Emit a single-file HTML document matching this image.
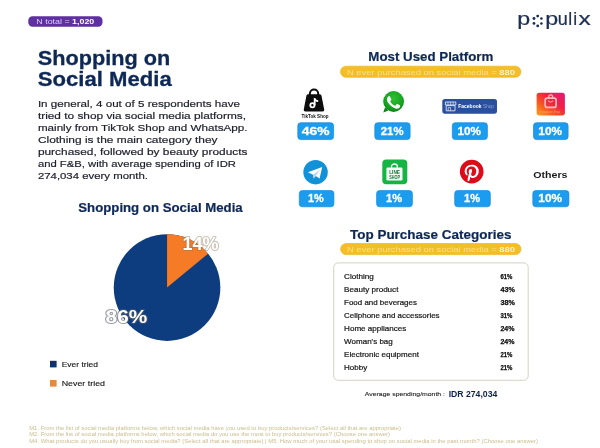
<!DOCTYPE html>
<html><head><meta charset="utf-8"><title>Shopping on Social Media</title>
<style>
html,body{margin:0;padding:0;background:#fff;}
body{width:600px;height:448px;overflow:hidden;}
svg{display:block;font-family:"Liberation Sans", sans-serif;}
text{white-space:pre;}
</style></head><body>
<svg width="600" height="448" viewBox="0 0 600 448">
<rect width="600" height="448" fill="#fff"/>
<rect x="28.3" y="16.3" width="74.2" height="10.5" rx="4.2" fill="#5f30a2"/>
<text x="36.3" y="24.2" font-size="7.6" font-weight="normal" fill="#dccff2" textLength="58.0" lengthAdjust="spacingAndGlyphs">N total = <tspan font-weight="bold" fill="#fff">1,020</tspan></text>
<text x="37.8" y="64.8" font-size="20.8" font-weight="bold" fill="#0e2856" textLength="132.4" lengthAdjust="spacingAndGlyphs" stroke="#0e2856" stroke-width="0.3">Shopping on</text>
<text x="37.8" y="86.3" font-size="20.8" font-weight="bold" fill="#0e2856" textLength="133.9" lengthAdjust="spacingAndGlyphs" stroke="#0e2856" stroke-width="0.3">Social Media</text>
<text x="37.9" y="106.60000000000001" font-size="9.7" font-weight="normal" fill="#1c1e2b" textLength="202.1" lengthAdjust="spacingAndGlyphs" stroke="#1c1e2b" stroke-width="0.18">In general, 4 out of 5 respondents have</text>
<text x="37.9" y="118.60000000000001" font-size="9.7" font-weight="normal" fill="#1c1e2b" textLength="208.1" lengthAdjust="spacingAndGlyphs" stroke="#1c1e2b" stroke-width="0.18">tried to shop via social media platforms,</text>
<text x="37.9" y="130.6" font-size="9.7" font-weight="normal" fill="#1c1e2b" textLength="209.6" lengthAdjust="spacingAndGlyphs" stroke="#1c1e2b" stroke-width="0.18">mainly from TikTok Shop and WhatsApp.</text>
<text x="37.9" y="142.70000000000002" font-size="9.7" font-weight="normal" fill="#1c1e2b" textLength="179.6" lengthAdjust="spacingAndGlyphs" stroke="#1c1e2b" stroke-width="0.18">Clothing is the main category they</text>
<text x="37.9" y="154.6" font-size="9.7" font-weight="normal" fill="#1c1e2b" textLength="209.6" lengthAdjust="spacingAndGlyphs" stroke="#1c1e2b" stroke-width="0.18">purchased, followed by beauty products</text>
<text x="37.9" y="166.70000000000002" font-size="9.7" font-weight="normal" fill="#1c1e2b" textLength="198.1" lengthAdjust="spacingAndGlyphs" stroke="#1c1e2b" stroke-width="0.18">and F&amp;B, with average spending of IDR</text>
<text x="37.9" y="178.6" font-size="9.7" font-weight="normal" fill="#1c1e2b" textLength="110.1" lengthAdjust="spacingAndGlyphs" stroke="#1c1e2b" stroke-width="0.18">274,034 every month.</text>
<text x="78.3" y="212" font-size="12.3" font-weight="bold" fill="#0e2856" textLength="164.4" lengthAdjust="spacingAndGlyphs" stroke="#0e2856" stroke-width="0.2">Shopping on Social Media</text>
<circle cx="167.05" cy="287.6" r="53.3" fill="#0e3d7f"/>
<path d="M167.05 287.6 L167.05 234.3 A53.3 53.3 0 0 1 208.12 253.63 Z" fill="#f67b27"/>
<text x="182.6" y="250.2" font-size="18.6" font-weight="bold" fill="#fff" textLength="36.0" lengthAdjust="spacingAndGlyphs" stroke="#8a7355" stroke-opacity="0.42" stroke-width="2.2" stroke-linejoin="round" paint-order="stroke">14%</text>
<text x="105.6" y="322.6" font-size="18.8" font-weight="bold" fill="#fff" textLength="41.6" lengthAdjust="spacingAndGlyphs" stroke="#5a5f6a" stroke-opacity="0.6" stroke-width="2.2" stroke-linejoin="round" paint-order="stroke">86%</text>
<rect x="50" y="360.8" width="6.6" height="6.6" fill="#10316a"/>
<rect x="50" y="380" width="6.6" height="6.6" fill="#e58a3e"/>
<text x="61.7" y="366.7" font-size="7.8" font-weight="normal" fill="#151515" textLength="36.3" lengthAdjust="spacingAndGlyphs" stroke="#151515" stroke-width="0.12">Ever tried</text>
<text x="61.7" y="385.8" font-size="7.8" font-weight="normal" fill="#151515" textLength="43.3" lengthAdjust="spacingAndGlyphs" stroke="#151515" stroke-width="0.12">Never tried</text>
<text x="29.2" y="430.3" font-size="4.6" font-weight="normal" fill="#cbbd8e" textLength="371.8" lengthAdjust="spacingAndGlyphs">M1. From the list of social media platforms below, which social media have you used to buy products/services? (Select all that are appropriate)</text>
<text x="29.2" y="436.4" font-size="4.6" font-weight="normal" fill="#cbbd8e" textLength="360.8" lengthAdjust="spacingAndGlyphs">M2. From the list of social media platforms below, which social media do you use the most to buy products/services? (Choose one answer)</text>
<text x="29.2" y="442.5" font-size="4.6" font-weight="normal" fill="#cbbd8e" textLength="508.8" lengthAdjust="spacingAndGlyphs">M4. What products do you usually buy from social media? (Select all that are appropriate) | M5. How much of your total spending to shop on social media in the past month? (Choose one answer)</text>
<text transform="translate(517.26 24.6) scale(1.33,1)" font-size="17.5" fill="#1b2f52" stroke="#1b2f52" stroke-width="0.2">p</text>
<text transform="translate(545.36 24.6) scale(1.33,1)" font-size="17.5" fill="#1b2f52" stroke="#1b2f52" stroke-width="0.2">p</text>
<text transform="translate(557.85 24.6) scale(1.03,1)" font-size="17.5" fill="#1b2f52" stroke="#1b2f52" stroke-width="0.2">u</text>
<text transform="translate(568.23 24.6) scale(1.0,1)" font-size="17.5" fill="#1b2f52" stroke="#1b2f52" stroke-width="0.2">l</text>
<text transform="translate(573.23 24.6) scale(1.0,1)" font-size="17.5" fill="#1b2f52" stroke="#1b2f52" stroke-width="0.2">i</text>
<text transform="translate(578.43 24.6) scale(1.4,1)" font-size="17.5" fill="#1b2f52" stroke="#1b2f52" stroke-width="0.2">x</text>
<circle cx="537.70" cy="16.10" r="1.45" fill="#1b2f52"/>
<circle cx="541.42" cy="18.55" r="1.3" fill="#1b2f52"/>
<circle cx="541.42" cy="23.45" r="1.3" fill="#1b2f52"/>
<circle cx="537.70" cy="25.90" r="1.4" fill="#1b2f52"/>
<circle cx="533.98" cy="23.45" r="1.4" fill="#1b2f52"/>
<circle cx="533.98" cy="18.55" r="1.45" fill="#1b2f52"/>
<text x="368.3" y="61.4" font-size="12.3" font-weight="bold" fill="#0e2856" textLength="125.0" lengthAdjust="spacingAndGlyphs" stroke="#0e2856" stroke-width="0.2">Most Used Platform</text>
<rect x="340.5" y="66.2" width="180.4" height="11.1" rx="5.55" fill="#f4be26" stroke="#f1b521" stroke-width="0.7"/>
<text x="347" y="74.6" font-size="7.9" font-weight="normal" fill="#fbe08a" textLength="168.0" lengthAdjust="spacingAndGlyphs">N ever purchased on social media = <tspan font-weight="bold" fill="#fff2c8">880</tspan></text>
<rect x="297.8" y="122.7" width="35.8" height="16.9" rx="3" fill="#1c9cef" stroke="#1189dc" stroke-width="0.7"/>
<text x="301.8" y="135.29999999999998" font-size="11" font-weight="bold" fill="#fff" textLength="27.7" lengthAdjust="spacingAndGlyphs" stroke="#fff" stroke-width="0.3">46%</text>
<rect x="374.8" y="122.7" width="35.3" height="16.9" rx="3" fill="#1c9cef" stroke="#1189dc" stroke-width="0.7"/>
<text x="380.8" y="135.29999999999998" font-size="11" font-weight="bold" fill="#fff" textLength="22.7" lengthAdjust="spacingAndGlyphs" stroke="#fff" stroke-width="0.3">21%</text>
<rect x="452.3" y="122.7" width="35.1" height="16.9" rx="3" fill="#1c9cef" stroke="#1189dc" stroke-width="0.7"/>
<text x="457.6" y="135.29999999999998" font-size="11" font-weight="bold" fill="#fff" textLength="23.4" lengthAdjust="spacingAndGlyphs" stroke="#fff" stroke-width="0.3">10%</text>
<rect x="533.5" y="122.7" width="34.6" height="16.9" rx="3" fill="#1c9cef" stroke="#1189dc" stroke-width="0.7"/>
<text x="538.3" y="135.29999999999998" font-size="11" font-weight="bold" fill="#fff" textLength="23.7" lengthAdjust="spacingAndGlyphs" stroke="#fff" stroke-width="0.3">10%</text>
<rect x="299.3" y="190.6" width="34.6" height="16.2" rx="3" fill="#1c9cef" stroke="#1189dc" stroke-width="0.7"/>
<text x="308" y="202.1" font-size="11" font-weight="bold" fill="#fff" textLength="15.7" lengthAdjust="spacingAndGlyphs" stroke="#fff" stroke-width="0.3">1%</text>
<rect x="376.6" y="190.6" width="35.8" height="16.2" rx="3" fill="#1c9cef" stroke="#1189dc" stroke-width="0.7"/>
<text x="386" y="202.1" font-size="11" font-weight="bold" fill="#fff" textLength="16.0" lengthAdjust="spacingAndGlyphs" stroke="#fff" stroke-width="0.3">1%</text>
<rect x="454.7" y="190.6" width="35.6" height="16.2" rx="3" fill="#1c9cef" stroke="#1189dc" stroke-width="0.7"/>
<text x="464" y="202.1" font-size="11" font-weight="bold" fill="#fff" textLength="16.0" lengthAdjust="spacingAndGlyphs" stroke="#fff" stroke-width="0.3">1%</text>
<rect x="532.8" y="190.6" width="36.1" height="16.2" rx="3" fill="#1c9cef" stroke="#1189dc" stroke-width="0.7"/>
<text x="538.3" y="202.1" font-size="11" font-weight="bold" fill="#fff" textLength="23.7" lengthAdjust="spacingAndGlyphs" stroke="#fff" stroke-width="0.3">10%</text>
<text x="533.2" y="178.4" font-size="9.5" font-weight="bold" fill="#1c1c1c" textLength="34.3" lengthAdjust="spacingAndGlyphs">Others</text>
<defs>
<linearGradient id="ig" x1="0" y1="1" x2="1" y2="0"><stop offset="0" stop-color="#fba31c"/><stop offset="0.33" stop-color="#f6581f"/><stop offset="0.62" stop-color="#ee2244"/><stop offset="1" stop-color="#e01a7c"/></linearGradient>
<radialGradient id="wa" cx="0.5" cy="0.35" r="0.7"><stop offset="0" stop-color="#2fc033"/><stop offset="0.6" stop-color="#17a522"/><stop offset="1" stop-color="#0a7d16"/></radialGradient>
</defs>
<!-- TikTok Shop -->
<g>
<g transform="translate(-0.2 -0.2)">
<path d="M310.1 96 V93.8 A4.15 4.1 0 0 1 318.4 93.8 V96" fill="none" stroke="#0c0c0c" stroke-width="2"/>
<path d="M308 94.5 H320 Q321.4 94.5 321.7 96 L324.4 109.6 Q324.8 111.7 322.8 111.7 H305.6 Q303.6 111.7 304 109.6 L306.6 96 Q306.9 94.5 308 94.5 Z" fill="#0c0c0c"/>
<circle cx="312.6" cy="105.4" r="2.1" fill="none" stroke="#fff" stroke-width="1.8"/>
<path d="M314.9 105.4 V98.2 Q315.3 101.2 318.4 101.4" fill="none" stroke="#fff" stroke-width="1.8"/>
</g>
<text x="301.6" y="117.9" font-size="5" font-weight="bold" fill="#111" textLength="26.9" lengthAdjust="spacingAndGlyphs">TikTok Shop</text>
</g>
<!-- WhatsApp -->
<g>
<path d="M383.3 112.6 L385 107.6 L388.4 110.6 Z" fill="#0a7d16"/>
<circle cx="393.6" cy="101.5" r="10.4" fill="url(#wa)"/>
<path transform="translate(380.3 89.3) scale(1.1)" fill="#fff" d="M17.472 14.382c-.297-.149-1.758-.867-2.03-.967-.273-.099-.471-.148-.67.15-.197.297-.767.966-.94 1.164-.173.199-.347.223-.644.075-.297-.15-1.255-.463-2.39-1.475-.883-.788-1.48-1.761-1.653-2.059-.173-.297-.018-.458.13-.606.134-.133.298-.347.446-.52.149-.174.198-.298.298-.497.099-.198.05-.371-.025-.52-.075-.149-.669-1.612-.916-2.207-.242-.579-.487-.5-.669-.51-.173-.008-.371-.01-.57-.01-.198 0-.52.074-.792.372-.272.297-1.04 1.016-1.04 2.479 0 1.462 1.065 2.875 1.213 3.074.149.198 2.096 3.2 5.077 4.487.709.306 1.262.489 1.694.625.712.227 1.36.195 1.871.118.571-.085 1.758-.719 2.006-1.413.248-.694.248-1.289.173-1.413-.074-.124-.272-.198-.57-.347"/>
</g>
<!-- Facebook Shop -->
<g>
<rect x="442.3" y="98.9" width="54.7" height="14.8" rx="2.6" fill="#2a4f9e"/>
<path d="M445.4 102 H455.8 V105 H445.4 Z M446.2 105.6 H455 V110.8 H446.2 Z" fill="none" stroke="#dfe7f7" stroke-width="0.9"/>
<path d="M448 102 V105 M450.6 102 V105 M453.2 102 V105 M448.2 110.8 V107.6 H450.6 V110.8" fill="none" stroke="#dfe7f7" stroke-width="0.7"/>
<text x="458.3" y="108.4" font-size="5.6" font-weight="bold" fill="#fff" textLength="23.2" lengthAdjust="spacingAndGlyphs">Facebook</text>
<text x="483" y="108.4" font-size="5.6" fill="#8fa6d6" textLength="11" lengthAdjust="spacingAndGlyphs">Shop</text>
</g>
<!-- Instagram Shop -->
<g>
<rect x="536.6" y="92.8" width="28.3" height="22.6" rx="2.6" fill="url(#ig)"/>
<path d="M548.7 98 V97 A2 2.1 0 0 1 552.7 97 V98" fill="none" stroke="#ffb9bd" stroke-width="1.2"/>
<rect x="545.2" y="98.2" width="10.9" height="9.2" rx="2" fill="#e8243c" fill-opacity="0.5" stroke="#ffb9bd" stroke-width="1.7"/>
<path d="M548 100.8 Q550.6 103.6 553.3 100.8" fill="none" stroke="#ffb9bd" stroke-width="1"/>
<text x="540.6" y="112.8" font-size="3" fill="#ff9f72" textLength="19.4" lengthAdjust="spacingAndGlyphs">Instagram Shop</text>
</g>
<!-- Telegram -->
<g>
<circle cx="315.55" cy="172.2" r="12.2" fill="#1192d8"/>
<path d="M307.9 172.3 L322.2 166.9 L319.6 178.6 L315.7 175.9 L313.7 178.2 L313.1 174.7 Z" fill="#fff"/>
<path d="M313.1 174.7 L320.2 169.4 L315.7 175.9 L313.7 178.2 Z" fill="#b5d6ec"/>
</g>
<!-- LINE Shop -->
<g>
<rect x="382.3" y="159.5" width="25" height="24.8" rx="4" fill="#14b445"/>
<path d="M391.5 168.4 V166.4 A2.9 2.4 0 0 1 397.3 166.4 V168.4" fill="none" stroke="#f4fff6" stroke-width="1.3"/>
<rect x="386.4" y="167.6" width="16.1" height="12.8" rx="1.2" fill="#f4fff6"/>
<text x="389.2" y="174" font-size="4.8" font-weight="bold" fill="#176f3a" textLength="10.8" lengthAdjust="spacingAndGlyphs">LINE</text>
<text x="389.2" y="178.6" font-size="4.8" font-weight="bold" fill="#176f3a" textLength="10.8" lengthAdjust="spacingAndGlyphs">SHOP</text>
</g>
<!-- Pinterest -->
<g>
<circle cx="471.7" cy="171.6" r="10" fill="#fff"/>
<path transform="translate(460.66 160.56) scale(0.92)" fill="#dc0c18" d="M12.017 0C5.396 0 .029 5.367.029 11.987c0 5.079 3.158 9.417 7.618 11.162-.105-.949-.199-2.403.041-3.439.219-.937 1.406-5.957 1.406-5.957s-.359-.72-.359-1.781c0-1.663.967-2.911 2.168-2.911 1.024 0 1.518.769 1.518 1.688 0 1.029-.653 2.567-.992 3.992-.285 1.193.6 2.165 1.775 2.165 2.128 0 3.768-2.245 3.768-5.487 0-2.861-2.063-4.869-5.008-4.869-3.41 0-5.409 2.562-5.409 5.199 0 1.033.394 2.143.889 2.741.099.12.112.225.085.345-.09.375-.293 1.199-.334 1.363-.053.225-.172.271-.401.165-1.495-.69-2.433-2.878-2.433-4.646 0-3.776 2.748-7.252 7.92-7.252 4.158 0 7.392 2.967 7.392 6.923 0 4.135-2.607 7.462-6.233 7.462-1.214 0-2.354-.629-2.758-1.379l-.749 2.848c-.269 1.045-1.004 2.352-1.498 3.146 1.123.345 2.306.535 3.55.535 6.607 0 11.985-5.365 11.985-11.987C23.97 5.39 18.592.026 11.985.026L12.017 0z"/>
<circle cx="471.7" cy="171.6" r="11" fill="none" stroke="#dc0c18" stroke-width="1.7"/>
</g>

<text x="350" y="238.7" font-size="12.3" font-weight="bold" fill="#0e2856" textLength="161.4" lengthAdjust="spacingAndGlyphs" stroke="#0e2856" stroke-width="0.2">Top Purchase Categories</text>
<rect x="340.6" y="243.5" width="180.4" height="11.1" rx="5.55" fill="#f4be26" stroke="#f1b521" stroke-width="0.7"/>
<text x="347" y="252.1" font-size="7.9" font-weight="normal" fill="#fbe08a" textLength="168.0" lengthAdjust="spacingAndGlyphs">N ever purchased on social media = <tspan font-weight="bold" fill="#fff2c8">880</tspan></text>
<rect x="333.7" y="262.9" width="194.5" height="117.4" rx="4.5" fill="#fff" stroke="#d6d1c4" stroke-width="1"/>
<text x="344.1" y="278.9" font-size="7.4" font-weight="normal" fill="#161616" textLength="29.8" lengthAdjust="spacingAndGlyphs" stroke="#161616" stroke-width="0.2">Clothing</text>
<text x="500.4" y="278.79999999999995" font-size="6.5" font-weight="bold" fill="#111" textLength="12.0" lengthAdjust="spacingAndGlyphs" stroke="#111" stroke-width="0.25">61%</text>
<text x="344.1" y="291.9" font-size="7.4" font-weight="normal" fill="#161616" textLength="54.3" lengthAdjust="spacingAndGlyphs" stroke="#161616" stroke-width="0.2">Beauty product</text>
<text x="500.4" y="291.79999999999995" font-size="6.5" font-weight="bold" fill="#111" textLength="14.4" lengthAdjust="spacingAndGlyphs" stroke="#111" stroke-width="0.25">43%</text>
<text x="344.1" y="304.8" font-size="7.4" font-weight="normal" fill="#161616" textLength="72.8" lengthAdjust="spacingAndGlyphs" stroke="#161616" stroke-width="0.2">Food and beverages</text>
<text x="500.4" y="304.7" font-size="6.5" font-weight="bold" fill="#111" textLength="14.4" lengthAdjust="spacingAndGlyphs" stroke="#111" stroke-width="0.25">38%</text>
<text x="344.1" y="317.8" font-size="7.4" font-weight="normal" fill="#161616" textLength="95.5" lengthAdjust="spacingAndGlyphs" stroke="#161616" stroke-width="0.2">Cellphone and accessories</text>
<text x="500.4" y="317.7" font-size="6.5" font-weight="bold" fill="#111" textLength="12.0" lengthAdjust="spacingAndGlyphs" stroke="#111" stroke-width="0.25">31%</text>
<text x="344.1" y="330.8" font-size="7.4" font-weight="normal" fill="#161616" textLength="62.3" lengthAdjust="spacingAndGlyphs" stroke="#161616" stroke-width="0.2">Home appliances</text>
<text x="500.4" y="330.7" font-size="6.5" font-weight="bold" fill="#111" textLength="14.0" lengthAdjust="spacingAndGlyphs" stroke="#111" stroke-width="0.25">24%</text>
<text x="344.1" y="343.8" font-size="7.4" font-weight="normal" fill="#161616" textLength="48.7" lengthAdjust="spacingAndGlyphs" stroke="#161616" stroke-width="0.2">Woman&#x27;s bag</text>
<text x="500.4" y="343.7" font-size="6.5" font-weight="bold" fill="#111" textLength="14.0" lengthAdjust="spacingAndGlyphs" stroke="#111" stroke-width="0.25">24%</text>
<text x="344.1" y="356.7" font-size="7.4" font-weight="normal" fill="#161616" textLength="74.8" lengthAdjust="spacingAndGlyphs" stroke="#161616" stroke-width="0.2">Electronic equipment</text>
<text x="500.4" y="356.59999999999997" font-size="6.5" font-weight="bold" fill="#111" textLength="12.0" lengthAdjust="spacingAndGlyphs" stroke="#111" stroke-width="0.25">21%</text>
<text x="344.1" y="369.7" font-size="7.4" font-weight="normal" fill="#161616" textLength="23.1" lengthAdjust="spacingAndGlyphs" stroke="#161616" stroke-width="0.2">Hobby</text>
<text x="500.4" y="369.59999999999997" font-size="6.5" font-weight="bold" fill="#111" textLength="12.0" lengthAdjust="spacingAndGlyphs" stroke="#111" stroke-width="0.25">21%</text>
<text x="364.8" y="396.2" font-size="5.9" font-weight="normal" fill="#222" textLength="80.2" lengthAdjust="spacingAndGlyphs" stroke="#222" stroke-width="0.1">Average spending/month :</text>
<text x="448.7" y="397" font-size="8.6" font-weight="bold" fill="#0c2348" textLength="48.6" lengthAdjust="spacingAndGlyphs">IDR 274,034</text>
</svg>
</body></html>
